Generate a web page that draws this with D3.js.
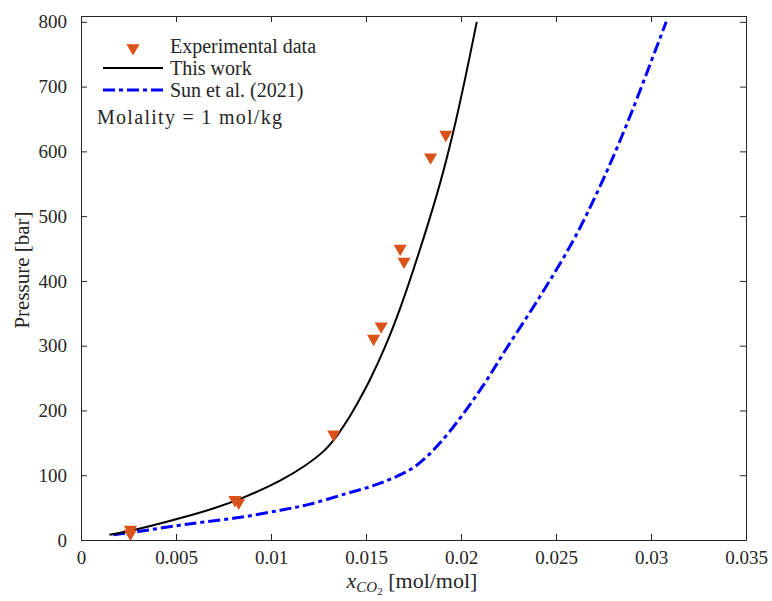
<!DOCTYPE html>
<html>
<head>
<meta charset="utf-8">
<script src="https://cdn.jsdelivr.net/npm/d3@7"></script>
<style>
  body { margin: 0; background: #fff; }
  text { font-family: "Liberation Serif", "DejaVu Serif", serif; fill: #262626; }
</style>
</head>
<body>
<div id="chart"></div>
<script>
// experimental points
const expX = [0.0026, 0.0026, 0.0081, 0.0083, 0.0133, 0.0154, 0.0158, 0.0168, 0.0170, 0.0184, 0.0192];
const expP = [16, 10, 62, 58, 163, 311, 330, 450, 430, 591, 626];

// this work
const workX = [0.0015, 0.003, 0.005, 0.007, 0.0085, 0.0105, 0.0118, 0.0128, 0.0134, 0.014, 0.0146, 0.0152, 0.016, 0.0168, 0.0178, 0.0189, 0.0196, 0.0202, 0.02083];
const workP = [8, 17, 32, 49, 65, 92, 115, 138, 158, 184, 214, 247, 298, 358, 445, 551, 631, 710, 800];

// Sun et al. (2021)
const sunX = [0.0017, 0.003, 0.005, 0.0065, 0.0084, 0.0105, 0.012, 0.014, 0.0155, 0.0166, 0.0174, 0.0181, 0.0189, 0.02, 0.0212, 0.0224, 0.0242, 0.0259, 0.0273, 0.0287, 0.0308];
const sunP = [8, 13, 22, 28, 35, 46, 55, 72, 85, 98, 110, 126, 150, 190, 240, 296, 378, 462, 545, 640, 800];

const xTicks = [0, 0.005, 0.01, 0.015, 0.02, 0.025, 0.03, 0.035];
const xTickLabels = ["0", "0.005", "0.01", "0.015", "0.02", "0.025", "0.03", "0.035"];
const yTicks = [0, 100, 200, 300, 400, 500, 600, 700, 800];

const width = 772, height = 601;
const margin = {top: 16, right: 26, bottom: 61, left: 81};

const svg = d3.select("#chart")
    .append("svg")
    .attr("width", width)
    .attr("height", height);

const xScale = d3.scaleLinear()
    .domain([0, 0.035])
    .range([margin.left, width - margin.right]);

const yScale = d3.scaleLinear()
    .domain([0, 809])
    .range([height - margin.bottom, margin.top]);

const axisColor = "#262626";

// axes (ticks inward, box on)
const xAxis = svg.append("g")
    .attr("transform", `translate(0,${height - margin.bottom})`)
    .call(d3.axisBottom(xScale).tickValues(xTicks).tickSizeInner(-6).tickSizeOuter(0)
        .tickFormat((d, i) => xTickLabels[i]).tickPadding(11));

const xTop = svg.append("g")
    .attr("transform", `translate(0,${margin.top})`)
    .call(d3.axisTop(xScale).tickValues(xTicks).tickSizeInner(-6).tickSizeOuter(0).tickFormat(""));

const yAxis = svg.append("g")
    .attr("transform", `translate(${margin.left},0)`)
    .call(d3.axisLeft(yScale).tickValues(yTicks).tickSizeInner(-6).tickSizeOuter(0).tickPadding(14));

const yRight = svg.append("g")
    .attr("transform", `translate(${width - margin.right},0)`)
    .call(d3.axisRight(yScale).tickValues(yTicks).tickSizeInner(-6).tickSizeOuter(0).tickFormat(""));

[xAxis, xTop, yAxis, yRight].forEach(g => {
    g.select(".domain").attr("stroke", axisColor);
    g.selectAll(".tick line").attr("stroke", axisColor);
    g.selectAll(".tick text")
        .attr("font-size", 19)
        .attr("font-family", "Liberation Serif, serif")
        .attr("fill", axisColor);
});

// clip
svg.append("clipPath").attr("id", "clip")
    .append("rect")
    .attr("x", margin.left).attr("y", margin.top)
    .attr("width", width - margin.left - margin.right)
    .attr("height", height - margin.top - margin.bottom);

const line = d3.line()
    .x(d => xScale(d[0]))
    .y(d => yScale(d[1]))
    .curve(d3.curveCatmullRom.alpha(0.5));

const plot = svg.append("g").attr("clip-path", "url(#clip)");

// Sun et al. curve
plot.append("path")
    .datum(sunX.map((x, i) => [x, sunP[i]]))
    .attr("d", line)
    .attr("fill", "none")
    .attr("stroke", "#0000ff")
    .attr("stroke-width", 3)
    .attr("stroke-dasharray", "12,4,4,4");

// this work
plot.append("path")
    .datum(workX.map((x, i) => [x, workP[i]]))
    .attr("d", line)
    .attr("fill", "none")
    .attr("stroke", "#000")
    .attr("stroke-width", 2);

// experimental triangles
const tri = d3.symbol().type(d3.symbolTriangle).size(75);
plot.selectAll(".exp")
    .data(expX.map((x, i) => [x, expP[i]]))
    .enter().append("path")
    .attr("class", "exp")
    .attr("d", tri)
    .attr("transform", d => `translate(${xScale(d[0])},${yScale(d[1])}) rotate(180)`)
    .attr("fill", "#D95319");

// legend
const legend = svg.append("g");
legend.append("path")
    .attr("d", tri)
    .attr("transform", "translate(133,48) rotate(180)")
    .attr("fill", "#D95319");
legend.append("line")
    .attr("x1", 103).attr("x2", 163).attr("y1", 68).attr("y2", 68)
    .attr("stroke", "#000").attr("stroke-width", 2);
legend.append("line")
    .attr("x1", 103).attr("x2", 163).attr("y1", 90).attr("y2", 90)
    .attr("stroke", "#0000ff").attr("stroke-width", 3)
    .attr("stroke-dasharray", "12,4,4,4");

const legendLabels = ["Experimental data", "This work", "Sun et al. (2021)"];
legend.selectAll(".lt")
    .data(legendLabels)
    .enter().append("text")
    .attr("x", 170)
    .attr("y", (d, i) => 46 + i * 22)
    .attr("dy", "0.35em")
    .attr("font-size", 20)
    .text(d => d);

svg.append("text")
    .attr("x", 97)
    .attr("y", 117)
    .attr("dy", "0.35em")
    .attr("font-size", 20)
    .attr("textLength", 185)
    .attr("lengthAdjust", "spacing")
    .text("Molality = 1 mol/kg");

// axis labels
svg.append("text")
    .attr("transform", "rotate(-90)")
    .attr("x", -270)
    .attr("y", 29)
    .attr("text-anchor", "middle")
    .attr("font-size", 21)
    .text("Pressure [bar]");

const xl = svg.append("text")
    .attr("x", 412)
    .attr("y", 588)
    .attr("text-anchor", "middle")
    .attr("font-size", 22);
xl.append("tspan").attr("font-style", "italic").text("x");
xl.append("tspan").attr("font-style", "italic").attr("font-size", 15).attr("dy", 4).text("CO");
xl.append("tspan").attr("font-size", 11).attr("dy", 3).text("2");
xl.append("tspan").attr("dy", -7).text(" [mol/mol]");
</script>
</body>
</html>
